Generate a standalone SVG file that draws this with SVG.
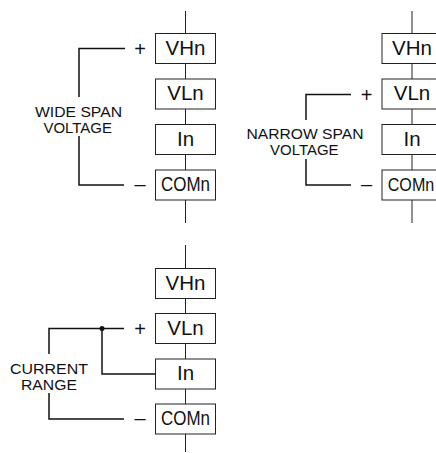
<svg xmlns="http://www.w3.org/2000/svg" width="436" height="453" viewBox="0 0 436 453">
<style>
text{font-family:"Liberation Sans",Arial,sans-serif;fill:#111;text-anchor:middle}
.box{fill:#fff;stroke:#222;stroke-width:1}
.t{font-size:20.500px}
.c{font-size:20px}
.cs{font-size:19px}
.l{font-size:15.500px}
.s{font-size:20px}
.bus{fill:none;stroke:#222;stroke-width:1}
.w{fill:none;stroke:#111;stroke-width:1.500}
</style>
<rect width="436" height="453" fill="#fff"/>
<g id="connectors">
<path class="bus" d="M185.500 11V223M412 11V223M185.500 245V452"/>
<path class="w" d="M125 48.500H79V97M79 136V185H124"/>
<path class="w" d="M351 94.500H306V120M306 159V185H351"/>
<path class="w" d="M124 328.500H49V354M49 393V419H124M102 328.500V374H155"/>
<circle cx="102" cy="328.500" r="2.500" fill="#111"/>
</g>
<g id="a-vhn"><rect class="box" x="155.500" y="33.500" width="60" height="30"/><text class="t" x="185.500" y="55">VHn</text></g>
<g id="a-vln"><rect class="box" x="155.500" y="79" width="60" height="30"/><text class="t" x="185.500" y="100">VLn</text></g>
<g id="a-in"><rect class="box" x="155.500" y="124.500" width="60" height="30"/><text class="t" x="185.500" y="145.500">In</text></g>
<g id="a-com"><rect class="box" x="155.500" y="170" width="60" height="30"/><text class="c" x="185.500" y="191" textLength="49" lengthAdjust="spacingAndGlyphs">COMn</text></g>
<g id="b-vhn"><rect class="box" x="382" y="33.500" width="60" height="30"/><text class="t" x="412" y="55">VHn</text></g>
<g id="b-vln"><rect class="box" x="382" y="79" width="60" height="30"/><text class="t" x="412" y="100">VLn</text></g>
<g id="b-in"><rect class="box" x="382" y="124.500" width="60" height="30"/><text class="t" x="412" y="145.500">In</text></g>
<g id="b-com"><rect class="box" x="382" y="170" width="60" height="30"/><text class="cs" x="411" y="191" textLength="46.500" lengthAdjust="spacingAndGlyphs">COMn</text></g>
<g id="c-vhn"><rect class="box" x="155.500" y="268.500" width="60" height="30"/><text class="t" x="185.500" y="290">VHn</text></g>
<g id="c-vln"><rect class="box" x="155.500" y="313.500" width="60" height="30"/><text class="t" x="185.500" y="334.500">VLn</text></g>
<g id="c-in"><rect class="box" x="155.500" y="359" width="60" height="30"/><text class="t" x="185.500" y="380">In</text></g>
<g id="c-com"><rect class="box" x="155.500" y="404" width="60" height="30"/><text class="c" x="185.500" y="425" textLength="49" lengthAdjust="spacingAndGlyphs">COMn</text></g>
<g id="labels">
<text class="s" x="140" y="55.500">+</text><text class="s" x="140" y="190.500">–</text>
<text class="s" x="366.500" y="101.500">+</text><text class="s" x="366.500" y="190.500">–</text>
<text class="s" x="140" y="335.500">+</text><text class="s" x="140" y="424.500">–</text>
<text class="l" x="78.500" y="116.500" textLength="87" lengthAdjust="spacingAndGlyphs">WIDE SPAN</text><text class="l" x="77.700" y="132.500" textLength="68.500" lengthAdjust="spacingAndGlyphs">VOLTAGE</text>
<text class="l" x="305" y="138.500" textLength="117" lengthAdjust="spacingAndGlyphs">NARROW SPAN</text><text class="l" x="304.300" y="154.500" textLength="68.500" lengthAdjust="spacingAndGlyphs">VOLTAGE</text>
<text class="l" x="49" y="373.500" textLength="78" lengthAdjust="spacingAndGlyphs">CURRENT</text><text class="l" x="49" y="389.500" textLength="56" lengthAdjust="spacingAndGlyphs">RANGE</text>
</g>
</svg>
